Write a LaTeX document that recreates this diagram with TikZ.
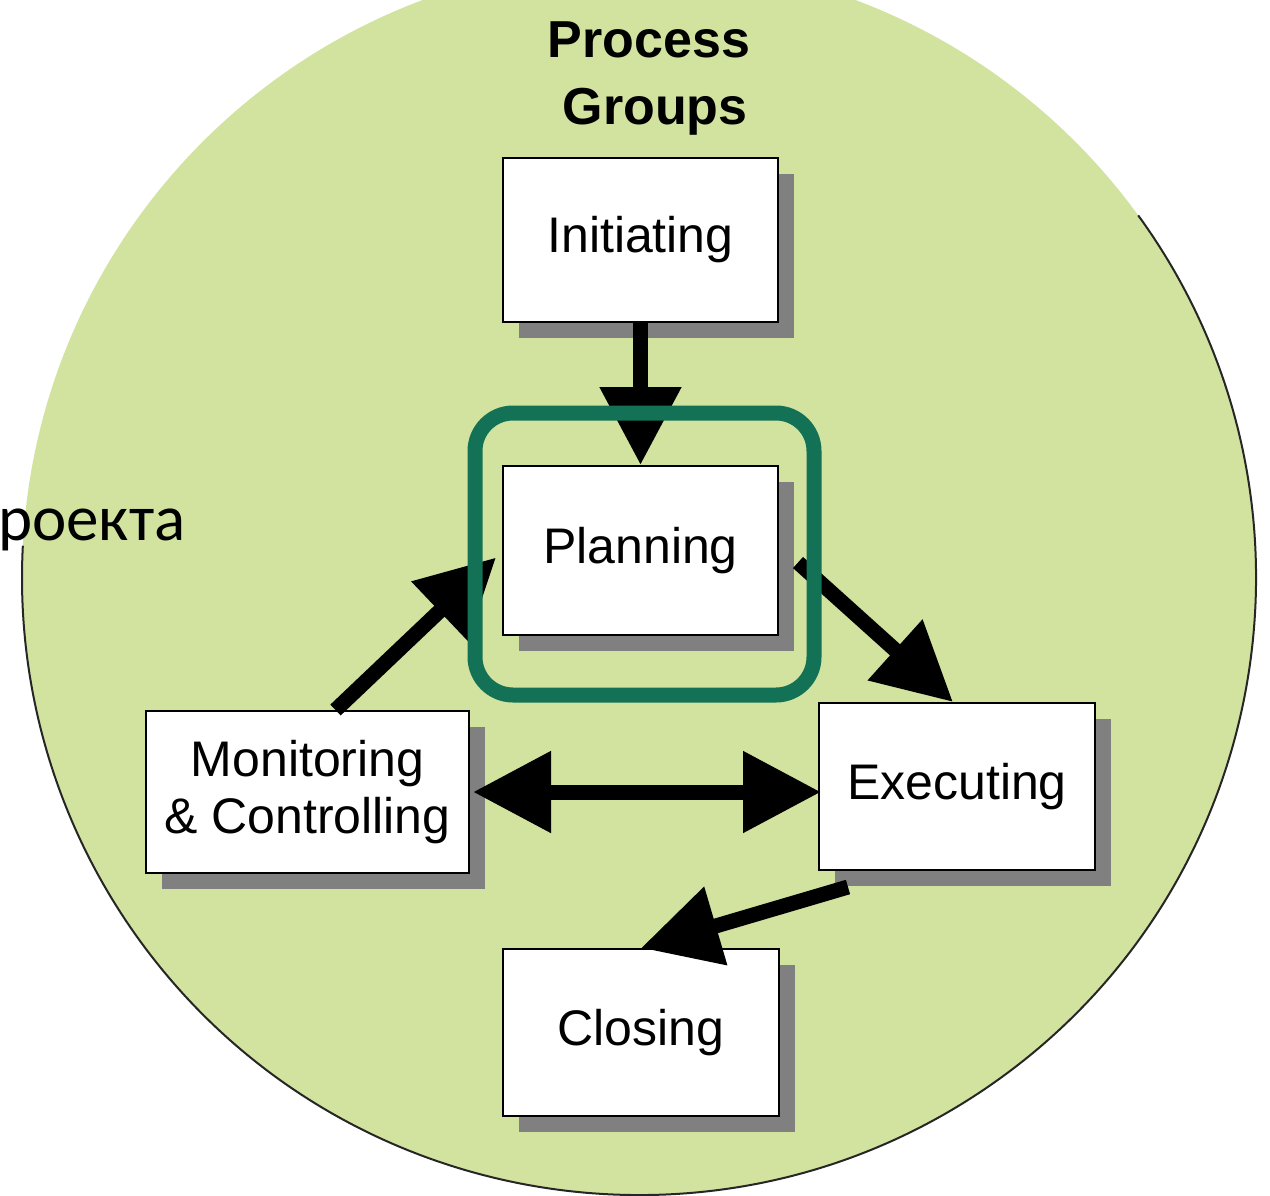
\documentclass[tikz,border=0pt]{standalone}
\usepackage{fontspec}
\setmainfont{Liberation Sans}
\newfontfamily\cyrfont{Carlito}
\usetikzlibrary{arrows.meta,shadows}
\definecolor{bggreen}{RGB}{210,227,160}
\definecolor{frameteal}{RGB}{19,114,86}
\definecolor{shadowgray}{RGB}{128,128,128}
\begin{document}
\begin{tikzpicture}[x=1pt,y=-1pt,
  box/.style={draw=black, line width=2pt, fill=white, inner sep=0pt,
    font=\fontsize{50}{57}\selectfont, align=center,
    drop shadow={shadow xshift=16pt, shadow yshift=-16pt, fill=shadowgray, opacity=1}},
  bigarrow/.style={line width=15pt, -{Triangle[length=78pt,width=78pt]}},
  dblarrow/.style={line width=15pt, {Triangle[length=78pt,width=78pt]}-{Triangle[length=78pt,width=78pt]}},
  plainlabel/.style={inner sep=0pt, anchor=base}]
\clip (0,0) rectangle (1270,1195);
\fill[white] (0,0) rectangle (1270,1195);
% background disc
\fill[bggreen] (639,578) circle[radius=617pt];
\draw[line width=2pt, black!85] (639,578) ++(36:617pt) arc[start angle=36, end angle=-183, radius=617pt];
% boxes
\node[box, minimum width=275pt, minimum height=164pt] (init) at (640.5,240) {Initiating};
\node[box, minimum width=275pt, minimum height=169pt] (plan) at (640.5,550.5) {Planning};
\node[box, minimum width=323pt, minimum height=162pt] (mon) at (307.5,792) {Monitoring\\\& Controlling};
\node[box, minimum width=276pt, minimum height=167pt] (exec) at (957,786.5) {Executing};
\node[box, minimum width=276pt, minimum height=167pt] (close) at (641,1032.5) {Closing};
% connectors
\draw[bigarrow] (init.south) -- (plan.north);
\draw[bigarrow] ([xshift=28pt]mon.north) -- ([shift={(-6,7)}]plan.west);
\draw[bigarrow] ([shift={(19,12)}]plan.east) -- ([xshift=-4pt]exec.north);
\draw[dblarrow] ([xshift=3pt]mon.east) -- ([xshift=3pt]exec.west |- mon.east);
\draw[bigarrow] ([shift={(-109,16)}]exec.south) -- (close.north);
% highlight frame
\draw[frameteal, line width=15pt, rounded corners=38pt] (475,413) rectangle (814,695);
% titles
\node[plainlabel, font=\bfseries\fontsize{52}{67}\selectfont] (title1) at (649,57) {Process};
\node[plainlabel, font=\bfseries\fontsize{52}{67}\selectfont] (title2) at (655,124) {Groups};
\node[inner sep=0pt, anchor=base west, font=\cyrfont\fontsize{65}{78}\selectfont] (ru) at (-2,540) {роекта};
\end{tikzpicture}
\end{document}
